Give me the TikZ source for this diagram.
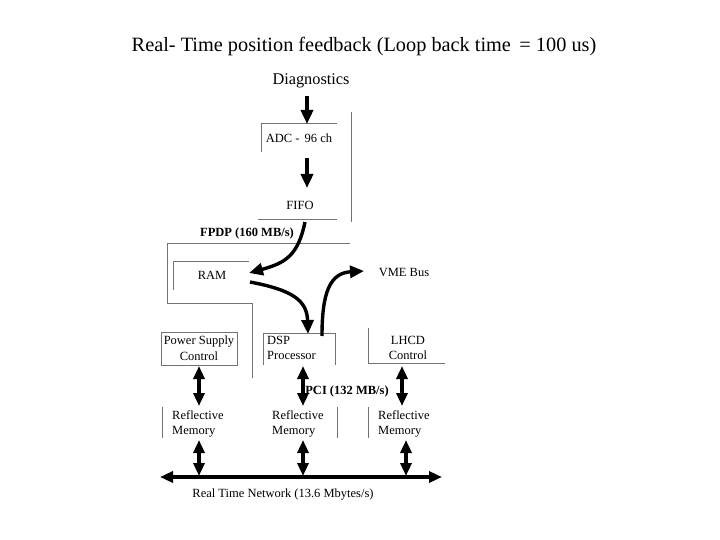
\documentclass[tikz,border=0pt]{standalone}
\usepackage{fontspec}
\setmainfont{Liberation Serif}
\usetikzlibrary{arrows.meta}
\begin{document}
\begin{tikzpicture}[x=1pt,y=-1pt,
  thin line/.style={draw=black!55,line width=0.8pt},
  arr/.style={line width=3.4pt,-{Triangle[length=14pt,width=12pt]}},
  darr/.style={line width=3.4pt,{Triangle[length=13pt,width=11pt]}-{Triangle[length=13pt,width=11pt]}},
  lbl/.style={inner sep=0pt,font=\fontsize{12.5}{13}\selectfont},
  lblb/.style={inner sep=0pt,font=\bfseries\fontsize{12.5}{13}\selectfont},
  two/.style={inner sep=0pt,align=left,font=\fontsize{12.5}{15.5}\selectfont},
  twoc/.style={inner sep=0pt,align=center,font=\fontsize{12.5}{15.5}\selectfont}]
\useasboundingbox[fill=white] (0,0) rectangle (720,540);

% texts
\node[inner sep=0pt,font=\fontsize{20.3}{22}\selectfont] (title) at (364,47) {Real- Time position feedback (Loop back time \,= 100 us)};
\node[inner sep=0pt,font=\fontsize{16.3}{18}\selectfont] (diag) at (311,81) {Diagnostics};
\node[lbl] (adc) at (299,138) {ADC - \,96 ch};
\node[lbl] (fifo) at (300,205) {FIFO};
\node[lblb] (fpdp) at (247,233) {FPDP (160 MB/s)};
\node[lbl] (ram) at (212,275) {RAM};
\node[lbl] (vme) at (404,273) {VME Bus};
\node[twoc] (ps) at (199,348) {Power Supply\\Control};
\node[two,anchor=west] (dsp) at (267,348) {DSP\\Processor};
\node[twoc] (lhcd) at (408,348) {LHCD\\Control};
\node[lblb] (pci) at (347,391) {PCI (132 MB/s)};
\node[two,anchor=west] (rm1) at (172,424) {Reflective\\Memory};
\node[two,anchor=west] (rm2) at (272,424) {Reflective\\Memory};
\node[two,anchor=west] (rm3) at (378,424) {Reflective\\Memory};
\node[lbl] (net) at (283,495) {Real Time Network (13.6 Mbytes/s)};

% thin outline lines
\draw[thin line] (337,123) -- (261,123) -- (261,152);
\draw[thin line] (351,112) -- (351,222);
\draw[thin line] (258,219) -- (337,219);
\draw[thin line] (350,243) -- (167,243) -- (167,303) -- (252,303) -- (252,378);
\draw[thin line] (249,261) -- (173,261) -- (173,290);
\draw[thin line] (161,332) rectangle (237,365);
\draw[thin line] (263,365) -- (263,333) -- (335,333) -- (335,365);
\draw[thin line] (368,328) -- (368,363) -- (445,363);
\draw[thin line] (162,407) -- (162,438);
\draw[thin line] (337,407) -- (337,438);
\draw[thin line] (368,407) -- (368,438);

% coordinates
\coordinate (a1s) at (307,96);
\coordinate (a1e) at (307,124);
\coordinate (a2s) at (307,158);
\coordinate (a2e) at (307,188);
\coordinate (fs) at (305,222);
\coordinate (fe) at (249,273);
\coordinate (rs) at (250,282);
\coordinate (re) at (308,334);
\coordinate (vs) at (322,336);
\coordinate (ve) at (364,271);
\coordinate (n1) at (160,477);
\coordinate (n2) at (442,477);

% thick arrows
\draw[arr] (a1s) -- (a1e);
\draw[arr] (a2s) -- (a2e);
\draw[arr] (fs) .. controls (298,256) and (285,263) .. (fe);
\draw[arr] (rs) .. controls (292,290) and (307,300) .. (re);
\draw[arr] (vs) .. controls (322,292) and (330,273) .. (ve);
\draw[darr] (199,366) -- (199,406);
\draw[darr] (303,366) -- (303,406);
\draw[darr] (402,366) -- (402,406);
\draw[darr] (199,440) -- (199,476);
\draw[darr] (303,440) -- (303,476);
\draw[darr] (406,440) -- (406,476);
\draw[darr] (n1) -- (n2);
\end{tikzpicture}
\end{document}
